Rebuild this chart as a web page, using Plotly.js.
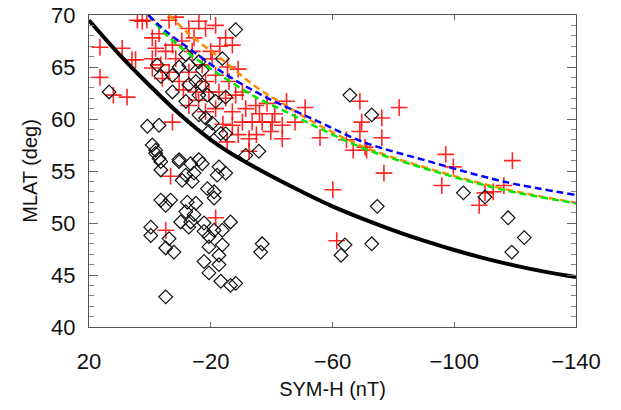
<!DOCTYPE html>
<html>
<head>
<meta charset="utf-8">
<script src="https://cdn.plot.ly/plotly-3.0.1.min.js"></script>
<style>html,body{margin:0;padding:0;background:#fff;}#chart{width:621px;height:410px;}</style>
</head>
<body>
<div id="chart"></div>
<script>
// Red crosses (SYM-H nT, MLAT deg)
var redX = [16.4,16.4,9.1,5.9,7.5,4.7,4.1,2.5,1.0,-0.8,-1.9,-0.8,-3.6,-5.2,-7.4,-8.5,-6.3,-8.5,-12.8,-16.1,-18.3,-21.6,-24.9,-27.1,-13.9,-12.8,-6.3,-9.6,-17.2,-18.3,-21.6,-15.1,-19.4,-22.7,-26.0,-24.9,-28.2,-30.4,-21.6,-27.1,-31.5,-34.8,-30.4,-33.6,-36.9,-40.2,-39.7,-43.5,-43.5,-32.6,-32.6,-7.4,-27.1,-25.4,-12.8,-18.3,-6.8,-21.6,-5.2,-44.9,-51.0,-47.7,-55.9,-69.0,-69.6,-76.2,-81.9,-69.0,-76.2,-64.6,-70.7,-66.8,-71.2,-76.9,-60.1,-61.4,-97.2,-99.7,-95.9,-108.2,-110.1,-112.8,-116.3,-119.1,-0.8,-4.1,-10.5,-14.5,-20.0,-23.0,-11.0,-16.0,-20.5,-25.5,-29.0,-3.0,-36.0,-38.5,-41.0,-35.0,-29.0,-24.0,12.0];
var redY = [66.9,64.0,66.8,65.7,62.1,65.7,69.5,69.4,69.5,67.8,66.8,65.8,65.2,66.5,67.1,65.8,69.5,69.8,68.7,69.4,68.7,69.0,67.8,67.1,66.5,64.5,64.5,63.6,65.2,63.6,64.2,62.6,62.6,62.6,63.6,62.0,62.3,62.6,61.0,60.7,61.0,61.3,59.7,59.7,59.7,59.7,58.8,59.4,58.1,58.1,56.9,59.7,59.4,57.8,61.3,60.7,54.5,50.5,49.3,61.7,61.1,59.7,58.2,61.7,59.7,60.1,61.1,58.8,58.2,58.0,57.3,57.0,57.0,54.8,53.2,48.3,56.6,55.4,53.6,51.7,52.9,53.0,53.6,56.0,64.9,63.9,67.5,67.8,66.5,67.0,62.8,61.8,65.8,65.0,64.8,68.2,60.5,61.5,60.5,58.5,58.5,59.5,62.3];

// Black open diamonds
var diaX = [-65.7,-72.9,-74.7,-64.1,-62.8,-72.9,-103.0,-110.1,-117.7,-123.0,-118.9,-1.9,-3.6,-3.6,-9.6,-13.4,-17.2,-11.8,-14.5,-10.6,-13.9,-22.7,-24.9,-22.1,-18.9,-21.1,-21.1,-3.6,-6.8,-5.2,-12.3,-15.1,-11.8,-10.1,-13.4,-14.5,-12.8,-0.3,-0.3,-6.3,-5.2,-7.9,-17.8,-17.8,-19.4,-21.1,-23.8,-26.5,-19.4,-23.8,-22.7,-17.8,-22.7,-19.4,-23.3,-26.5,-28.2,-36.9,-36.4,-5.2,-28.2,13.4,-11.8,-2.4,-3.6,-7.4,-9.6,-12.8,-16.1,-17.2,-23.8,-12.8,-7.4,-11.8,-15.1,-17.2,-16.1,-18.9,-21.6,-24.9,-16.1,-18.3,-20.5,-19.4,-23.3,-24.9,0.8,-3.0,-0.8,-1.9,-3.0,-9.6,-16.1,-35.8,-31.5];
var diaY = [62.3,60.4,51.6,47.9,46.9,48.0,52.9,52.5,50.5,48.6,47.2,56.7,55.9,55.1,55.9,55.7,55.7,54.6,54.8,54.1,54.0,55.4,54.8,54.6,53.3,53.0,52.4,52.2,52.2,51.7,52.0,51.9,51.1,50.1,50.1,50.8,49.6,49.6,48.8,48.5,47.6,47.2,50.0,49.2,48.7,49.3,49.3,50.1,47.7,47.9,46.9,46.3,46.0,45.2,44.4,44.0,44.2,48.0,47.2,42.9,68.6,62.6,66.2,65.2,64.1,64.2,65.0,65.2,65.5,64.7,65.8,63.3,62.6,61.7,63.6,63.3,62.3,62.3,61.7,62.1,60.4,60.1,59.6,58.8,58.6,58.6,59.3,59.4,57.5,57.0,56.2,56.1,56.1,56.9,56.5];

// Boundary curves
var blackX = [20,10,0,-10,-20,-30,-40,-50,-60,-70,-80,-90,-100,-110,-120,-130,-140];
var blackY = [69.5,66.2,63.2,60.4,58.0,56.1,54.5,53.0,51.6,50.4,49.3,48.3,47.4,46.6,45.9,45.3,44.8];
var orangeX = [-6.3,-12.8,-23.8,-34.8,-44.6,-55,-70,-92,-116,-140];
var orangeY = [70,68.2,65.7,63.1,61.3,59.5,57.35,55.2,53.3,51.95];
var greenX = [0.5,-5,-12.8,-23.8,-34.8,-44,-55,-70,-92,-116,-140];
var greenY = [70,68.2,66.3,64.1,62.1,60.8,59.2,57.2,55.1,53.2,51.9];
var blueX = [0.5,-5,-12.8,-23.8,-34.8,-43,-55,-70,-92,-116,-140];
var blueY = [70,68.5,66.8,64.5,62.6,61.4,59.8,57.8,55.9,54.0,52.7];

var xTicks = [20,-20,-60,-100,-140];
var yTicks = [40,45,50,55,60,65,70];

var traces = [
  {x: redX, y: redY, mode: 'markers', type: 'scatter',
   marker: {symbol: 'cross-thin', size: 12, color: 'rgba(255,0,0,0.85)', line: {color: 'rgba(255,0,0,0.85)', width: 1.6}}},
  {x: diaX, y: diaY, mode: 'markers', type: 'scatter',
   marker: {symbol: 'diamond-open', size: 10.5, color: '#111', line: {color: '#111', width: 1.2}}},
  {x: blackX, y: blackY, mode: 'lines', type: 'scatter', line: {color: '#000', width: 4, shape: 'spline'}},
  {x: orangeX, y: orangeY, mode: 'lines', type: 'scatter', line: {color: 'rgb(255,140,0)', width: 2.5, dash: '7px,4px', shape: 'spline'}},
  {x: greenX, y: greenY, mode: 'lines', type: 'scatter', line: {color: 'rgb(0,230,0)', width: 2.5, dash: '7px,4px', shape: 'spline'}},
  {x: blueX, y: blueY, mode: 'lines', type: 'scatter', line: {color: 'rgb(0,0,255)', width: 2.5, dash: '7px,4px', shape: 'spline'}}
];

var fam = 'Liberation Sans, Arial, sans-serif';
var axisFont = {family: fam, size: 22, color: '#111'};
var layout = {
  width: 621, height: 410,
  margin: {l: 89, r: 45, t: 15, b: 83},
  showlegend: false,
  paper_bgcolor: '#fff', plot_bgcolor: '#fff',
  xaxis: {
    range: [20, -140], tickvals: xTicks, ticks: 'inside', ticklen: 5, tickcolor: '#666',
    showline: true, linecolor: '#555', linewidth: 1, mirror: 'ticks', showgrid: false, zeroline: false,
    tickfont: axisFont, ticklabelstandoff: 15,
    title: {text: 'SYM-H (nT)', font: {family: fam, size: 20, color: '#111'}, standoff: 8}
  },
  yaxis: {
    range: [40, 70], tickvals: yTicks, ticks: 'inside', ticklen: 9, tickcolor: '#666',
    minor: {dtick: 1, ticks: 'inside', ticklen: 5, tickcolor: '#888'},
    showline: true, linecolor: '#555', linewidth: 1, mirror: 'ticks', showgrid: false, zeroline: false,
    tickfont: axisFont, ticklabelstandoff: 8,
    title: {text: 'MLAT (deg)', font: {family: fam, size: 20, color: '#111'}, standoff: 8}
  }
};
Plotly.newPlot('chart', traces, layout, {displayModeBar: false, staticPlot: true});
</script>
</body>
</html>
